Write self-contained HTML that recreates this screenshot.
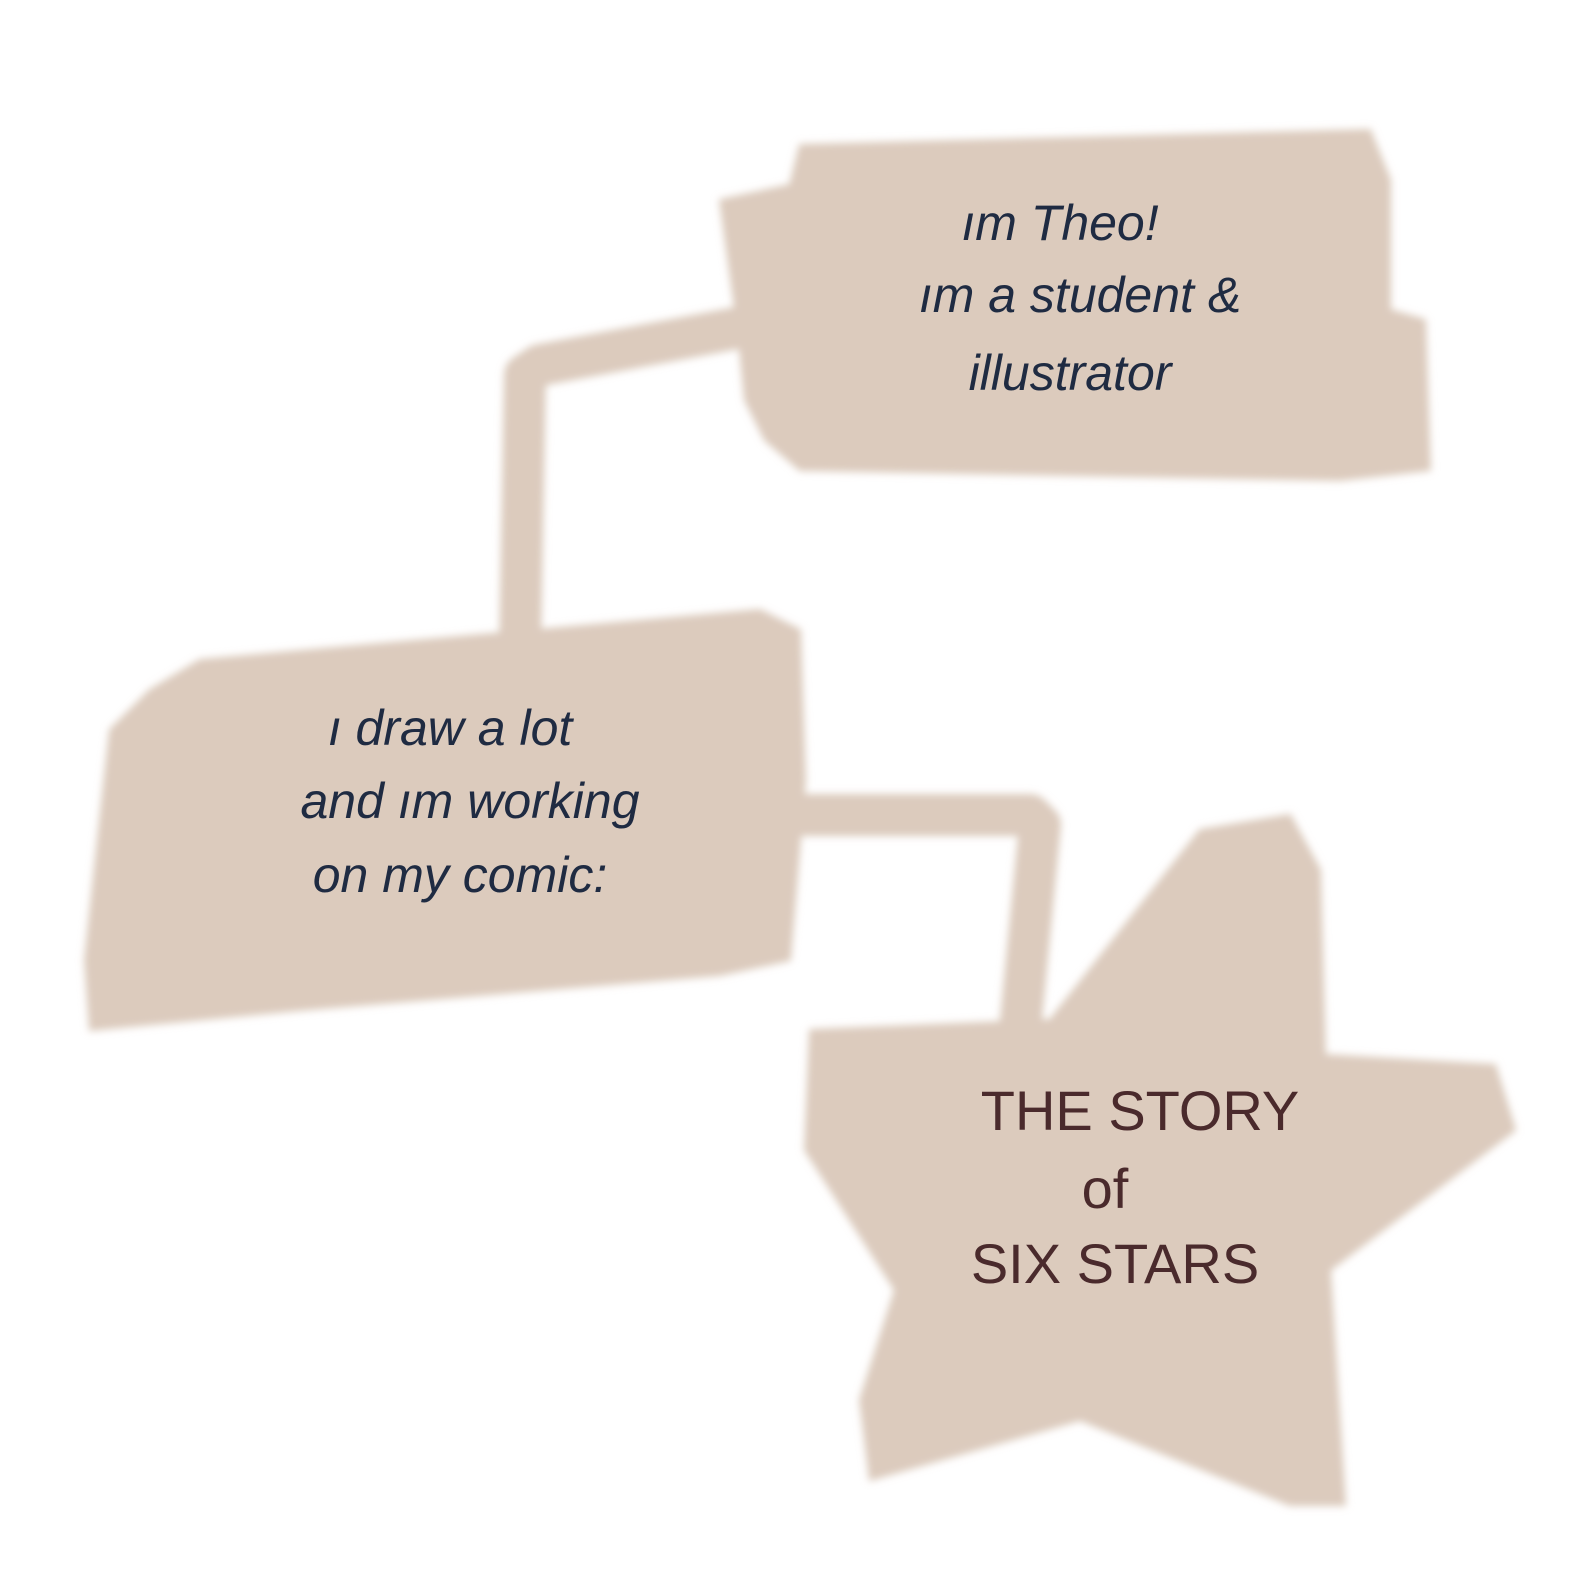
<!DOCTYPE html>
<html><head><meta charset="utf-8"><style>
html,body{margin:0;padding:0;background:#fff;}
svg{display:block}
text{font-family:"Liberation Sans","DejaVu Sans",sans-serif;}
</style></head><body>
<svg width="1584" height="1584" viewBox="0 0 1584 1584" xmlns="http://www.w3.org/2000/svg">
<defs>
<filter id="soft" x="-5%" y="-5%" width="110%" height="110%"><feGaussianBlur stdDeviation="4"/></filter>
</defs>
<g fill="#dccbbd" stroke="#dccbbd" filter="url(#soft)">
<polyline points="790,318 540,365 525,375 520,650" fill="none" stroke-width="42" stroke-linejoin="round"/>
<polyline points="780,815 1030,815 1040,825 1020,1030" fill="none" stroke-width="42" stroke-linejoin="round"/>
<polygon stroke-width="2" points="800,145 1370,130 1390,180 1390,310 1425,320 1430,470 1340,480 800,470 765,440 745,400 738,330 720,200 790,185"/>
<polygon stroke-width="2" points="200,660 760,610 800,630 805,780 790,960 720,975 300,1010 90,1030 85,960 100,820 110,730 150,690"/>
<polygon stroke-width="2" points="1200,830 1290,815 1320,870 1325,1055 1495,1065 1515,1130 1330,1270 1345,1505 1290,1505 1080,1420 870,1480 860,1400 895,1290 805,1150 810,1030 1050,1020"/>
</g>
<g fill="#1f2b42" font-size="50" text-anchor="middle" font-style="italic">
<text x="1060" y="240">ım  Theo!</text>
<text x="1080" y="312">ım a  student &amp;</text>
<text x="1070" y="390">illustrator</text>
<text x="450" y="745">ı draw  a lot</text>
<text x="470" y="818">and  ım  working</text>
<text x="460" y="892">on  my   comic:</text>
</g>
<g fill="#4a2a2c" font-size="56" text-anchor="middle">
<text x="1140" y="1130">THE  STORY</text>
<text x="1105" y="1208">of</text>
<text x="1115" y="1283">SIX  STARS</text>
</g>
</svg>
</body></html>
